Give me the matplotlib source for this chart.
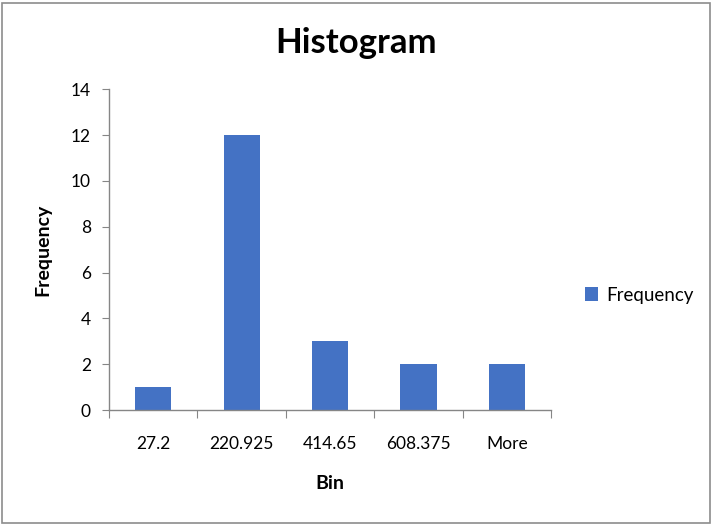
import matplotlib
matplotlib.use("Agg")
import matplotlib.pyplot as plt
from matplotlib.patches import Rectangle
import numpy as np

categories = ["27.2", "220.925", "414.65", "608.375", "More"]
frequency = [1, 12, 3, 2, 2]
yticks = [0, 2, 4, 6, 8, 10, 12, 14]

plt.rcParams['font.family'] = ['Lato', 'DejaVu Sans']

fig = plt.figure(figsize=(7.13, 5.25), dpi=100)
fig.patches.append(Rectangle((0.003, 0.004), 0.993, 0.991, transform=fig.transFigure,
                             fill=False, edgecolor='#8c8c8c', linewidth=1.2))
ax = fig.add_axes([0.1529, 0.219, 0.62, 0.611])
x = np.arange(len(categories))
bars = ax.bar(x, frequency, width=0.41, color='#4472C4', label='Frequency')
ax.set_xlim(-0.5, len(categories) - 0.5)
ax.set_ylim(0, 14)
ax.set_yticks(yticks)
ax.set_yticklabels([str(v) for v in yticks])
ax.set_xticks(np.arange(-0.5, len(categories), 1.0))
ax.set_xticklabels([])
ax.set_xticks(x, minor=True)
ax.set_xticklabels(categories, minor=True)
ax.tick_params(axis='x', which='minor', length=0, pad=19, labelsize=12.5)
ax.tick_params(axis='x', which='major', length=6, color='#868686', direction='out')
ax.tick_params(axis='y', length=5, color='#868686', labelsize=12.5, pad=8)
for s in ['top', 'right']:
    ax.spines[s].set_visible(False)
for s in ['left', 'bottom']:
    ax.spines[s].set_color('#868686')
    ax.spines[s].set_linewidth(1.0)
ax.set_xlabel('Bin', fontsize=14, fontweight='bold', labelpad=16)
ax.set_ylabel('Frequency', fontsize=14, fontweight='bold', labelpad=14)
fig.text(0.5, 0.918, 'Histogram', ha='center', va='center', fontsize=25, fontweight='bold')
leg = fig.legend(handles=[bars], labels=['Frequency'], loc='center left',
                 bbox_to_anchor=(0.797, 0.438), frameon=False, fontsize=13.5,
                 handlelength=0.7, handleheight=0.7, handletextpad=0.4)
fig.savefig('out.png', dpi=100)
